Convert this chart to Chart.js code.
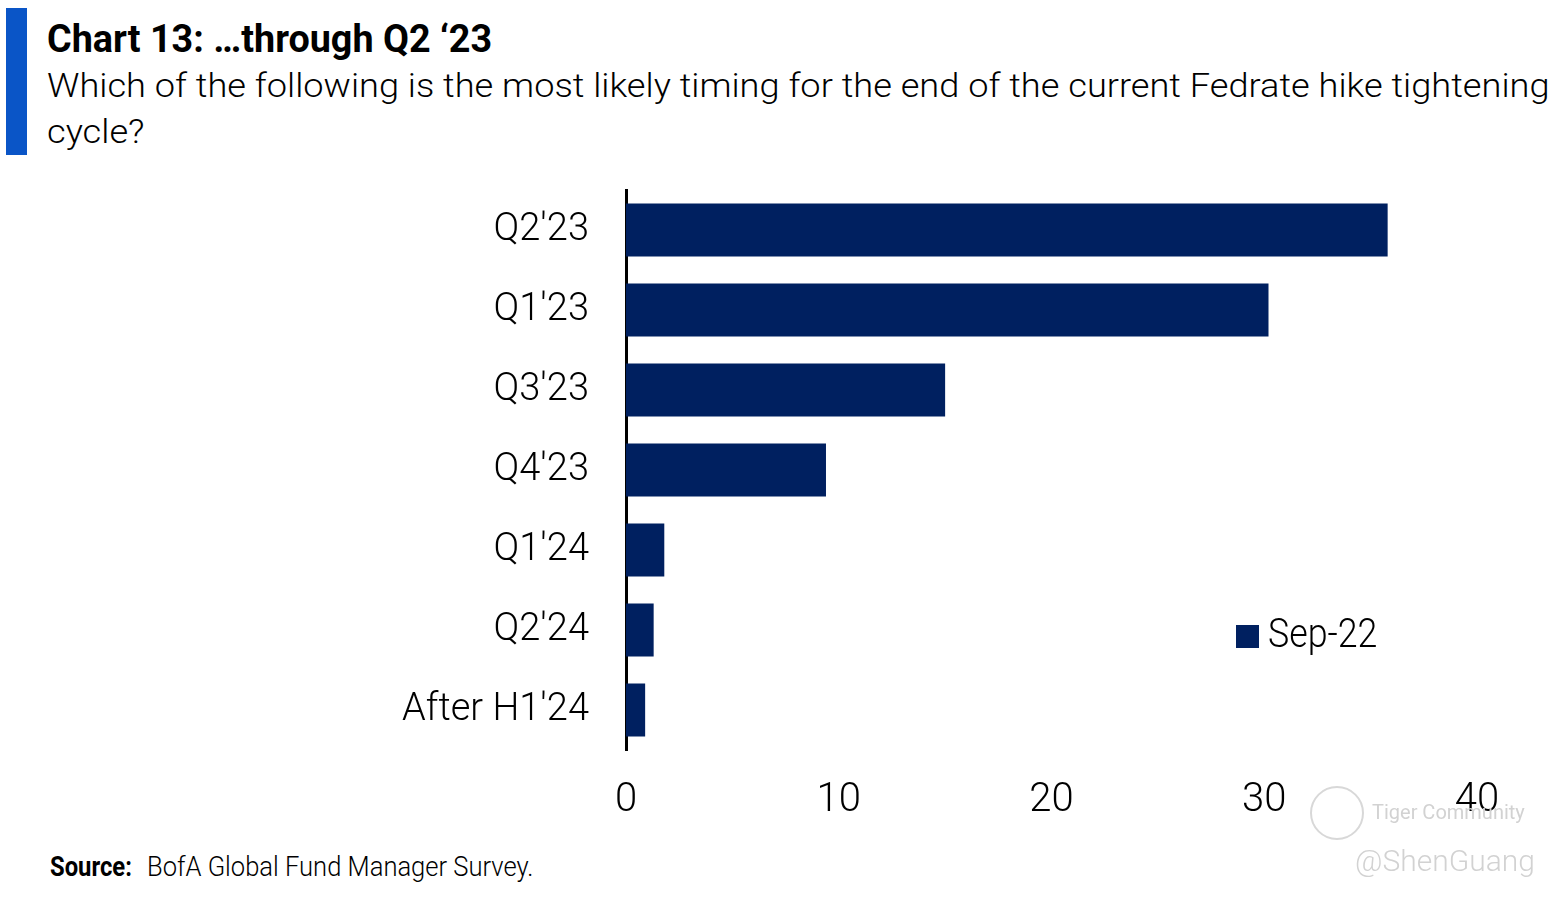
<!DOCTYPE html>
<html>
<head>
<meta charset="utf-8">
<script src="https://cdn.jsdelivr.net/npm/chart.js@4.4.0/dist/chart.umd.min.js"></script>
<style>
  html,body{margin:0;padding:0;background:#fff;width:1560px;height:899px;overflow:hidden;}
  body{position:relative;font-family:Roboto,"Noto Sans",sans-serif;color:#000;}
  .t{position:absolute;white-space:nowrap;display:inline-block;transform-origin:left top;}
  #bluebar{position:absolute;left:6px;top:8px;width:21px;height:147px;background:#0a55c7;}
  #title{left:47px;top:20px;font-size:38px;line-height:38px;font-weight:700;}
  #sub1{left:47px;top:62px;font-size:34px;line-height:46px;font-weight:300;}
  #sub2{left:47px;top:108px;font-size:34px;line-height:46px;font-weight:300;}
  #wrap{position:absolute;left:0;top:170px;width:1560px;height:660px;}
  #legbox{position:absolute;left:1236px;top:625px;width:23px;height:23px;background:#002060;}
  #legtext{left:1268px;top:614px;font-size:40px;line-height:40px;font-weight:300;}
  #src1{left:50px;top:854px;font-size:27px;line-height:27px;font-weight:700;}
  #src2{left:147px;top:854px;font-size:27px;line-height:27px;font-weight:300;}
  .wm{position:absolute;color:#d2d2d2;white-space:nowrap;}
</style>
</head>
<body>
<div id="bluebar"></div>
<span class="t" id="title">Chart 13: …through Q2 ‘23</span>
<span class="t" id="sub1">Which of the following is the most likely timing for the end of the current Fedrate hike tightening</span>
<span class="t" id="sub2">cycle?</span>
<div id="wrap"><canvas id="c"></canvas></div>
<div id="legbox"></div>
<span class="t" id="legtext"></span>
<span class="t" id="src1">Source:</span>
<span class="t" id="src2">BofA Global Fund Manager Survey.</span>
<div class="wm" style="left:1310px;top:786px;width:50px;height:50px;border:2px solid #d8d8d8;border-radius:50%;"></div>
<div class="wm" style="left:1372px;top:800px;font-size:20px;line-height:24px;">Tiger Community</div>
<div class="wm" style="left:1355px;top:843px;font-size:30px;line-height:36px;font-weight:300;">@ShenGuang</div>
<script>
const categories = ["Q2'23", "Q1'23", "Q3'23", "Q4'23", "Q1'24", "Q2'24", "After H1'24"];
const seriesName = "Sep-22";
const seriesValues = [35.8, 30.2, 15.0, 9.4, 1.8, 1.3, 0.9];
const xTicks = [0, 10, 20, 30, 40];

document.getElementById('legtext').textContent = seriesName;

function fitTo(id, w, scaleOverride) {
  const el = document.getElementById(id);
  const r = el.offsetWidth;
  const s = scaleOverride || (w / r);
  el.style.transform = 'scaleX(' + s + ')';
  return s;
}
function fitAll() {
  fitTo('title', 445);
  const s = fitTo('sub1', 1503);
  fitTo('sub2', 0, s);
  fitTo('src1', 82);
  fitTo('src2', 386);
  fitTo('legtext', 109);
}
fitAll();
if (document.fonts && document.fonts.ready) document.fonts.ready.then(fitAll);

new Chart(document.getElementById('c'), {
  type: 'bar',
  data: {
    labels: categories,
    datasets: [{
      label: seriesName,
      data: seriesValues,
      backgroundColor: '#002060',
      borderWidth: 0,
      barPercentage: 0.66,
      categoryPercentage: 1.0
    }]
  },
  options: {
    indexAxis: 'y',
    responsive: true,
    maintainAspectRatio: false,
    animation: false,
    layout: { padding: { top: 20, right: 83, left: 0, bottom: 0 } },
    plugins: { legend: { display: false }, tooltip: { enabled: false } },
    scales: {
      x: {
        min: 0, max: 40,
        afterFit: s => { s.height = 80; s.paddingLeft = 0; s.paddingRight = 0; },
        afterBuildTicks: s => { s.ticks = xTicks.map(v => ({ value: v })); },
        grid: { display: false, drawTicks: false },
        border: { display: false },
        ticks: { color: '#000', padding: 27, font: { family: 'Roboto', size: 40, weight: '300' } }
      },
      y: {
        afterFit: s => { s.width = 626; s.paddingTop = 0; s.paddingBottom = 0; },
        grid: { display: false, drawTicks: false },
        border: { display: true, color: '#000', width: 3 },
        ticks: { color: '#000', padding: 37, font: { family: 'Roboto', size: 38, weight: '300' } }
      }
    }
  }
});
</script>
</body>
</html>
